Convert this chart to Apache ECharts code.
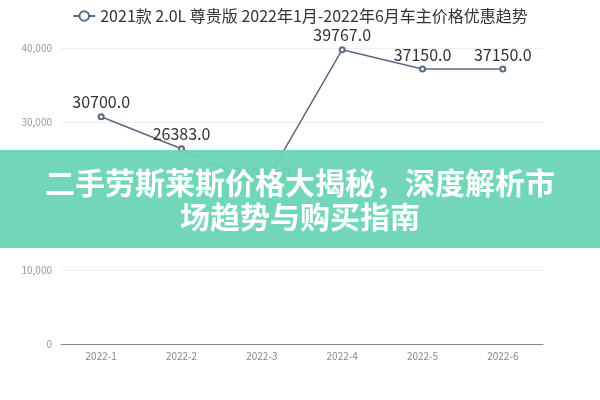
<!DOCTYPE html>
<html>
<head>
<meta charset="utf-8">
<script src="https://cdn.jsdelivr.net/npm/echarts@6/dist/echarts.min.js"></script>
<style>html,body{margin:0;padding:0;background:#fff}#c{width:600px;height:400px}</style>
</head>
<body>
<div id="c"></div>
<script>
var categories = ['2022-1','2022-2','2022-3','2022-4','2022-5','2022-6'];
var prices = [30700, 26383, 21000, 39767, 37150, 37150];
var seriesName = '2021款 2.0L 尊贵版 2022年1月-2022年6月车主价格优惠趋势';
var bannerLine1 = '二手劳斯莱斯价格大揭秘，深度解析市';
var bannerLine2 = '场趋势与购买指南';

var chart = echarts.init(document.getElementById('c'));
chart.setOption({
  animation: false,
  textStyle: {fontFamily: '"Noto Sans CJK SC", "Noto Sans", sans-serif'},
  legend: {
    top: 3, left: 'center',
    itemWidth: 22, itemHeight: 12, itemGap: 6,
    textStyle: {fontSize: 16, color: '#333'},
    data: [seriesName]
  },
  grid: {left: 61, right: 57, top: 48, bottom: 56},
  xAxis: {
    type: 'category',
    data: categories,
    axisLine: {lineStyle: {color: '#888'}},
    axisTick: {lineStyle: {color: '#888'}},
    axisLabel: {color: '#888', fontSize: 10, margin: 7}
  },
  yAxis: {
    type: 'value', min: 0, max: 40000, interval: 10000,
    axisLabel: {color: '#999', fontSize: 10, margin: 9},
    splitLine: {lineStyle: {color: '#eee'}},
    axisLine: {show: false}, axisTick: {show: false}
  },
  series: [{
    name: seriesName,
    type: 'line',
    data: prices,
    symbol: 'emptyCircle',
    symbolSize: 5,
    lineStyle: {color: '#5b6a80', width: 1.5},
    itemStyle: {color: '#5b6a80'},
    label: {
      show: true, position: 'top', fontSize: 16, color: '#333', distance: 3,
      formatter: function (p) { return p.value.toFixed(1); }
    }
  }],
  graphic: [
    {type: 'rect', left: 0, top: 150, shape: {width: 600, height: 98},
     style: {fill: 'rgba(106,213,180,0.95)'}, z: 100},
    {type: 'text', left: 'center', top: 168, z: 101,
     style: {text: bannerLine1, fill: '#fff', fontSize: 30, fontWeight: 'bold',
       fontFamily: '"Noto Sans CJK SC", sans-serif'}},
    {type: 'text', left: 'center', top: 202, z: 101,
     style: {text: bannerLine2, fill: '#fff', fontSize: 30, fontWeight: 'bold',
       fontFamily: '"Noto Sans CJK SC", sans-serif'}}
  ]
});
</script>
</body>
</html>
